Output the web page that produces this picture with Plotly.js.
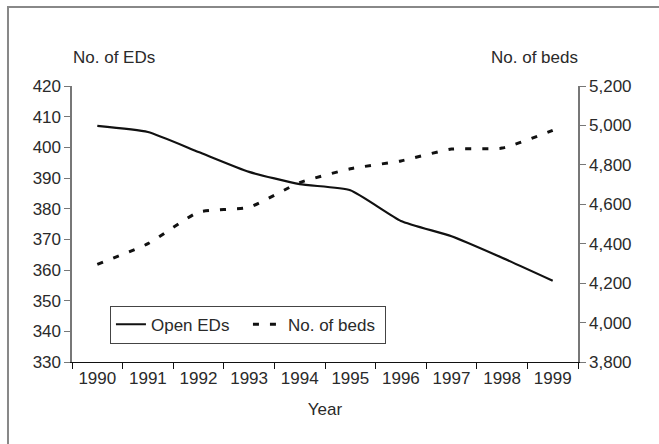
<!DOCTYPE html>
<html>
<head>
<meta charset="utf-8">
<script src="https://cdn.plot.ly/plotly-3.0.1.min.js"></script>
<style>html,body{margin:0;padding:0;background:#fff}#chart{width:659px;height:444px}</style>
</head>
<body>
<div id="chart"></div>
<script>
const years = ['1990','1991','1992','1993','1994','1995','1996','1997','1998','1999'];
const openEDs = [407, 405, 398.5, 392, 388, 386, 376, 371, 364, 356.5];
const beds = [4295, 4400, 4560, 4585, 4710, 4780, 4820, 4880, 4885, 4975];
const leftTicks = [330,340,350,360,370,380,390,400,410,420];
const rightTicks = [3800,4000,4200,4400,4600,4800,5000,5200];
const rightTickText = ['3,800','4,000','4,200','4,400','4,600','4,800','5,000','5,200'];

const FONT = 'Liberation Sans, Arial, sans-serif';
const FS = 17;
const TXT = '#2a2a2a';

const traces = [
  {x: years, y: openEDs, name: 'Open EDs', type: 'scatter', mode: 'lines',
   line: {color: '#111', width: 2.2, shape: 'spline', smoothing: 0.5}, yaxis: 'y'},
  {x: years, y: beds, name: 'No. of beds', type: 'scatter', mode: 'lines',
   line: {color: '#111', width: 3, dash: '6px,11px', shape: 'spline', smoothing: 0.5}, yaxis: 'y2'}
];

const layout = {
  width: 659, height: 444,
  margin: {l: 72, r: 81, t: 86, b: 82},
  paper_bgcolor: '#fff', plot_bgcolor: '#fff',
  font: {family: FONT, size: FS, color: TXT},
  showlegend: true,
  legend: {orientation: 'h', x: 0.075, y: 0.204, xanchor: 'left', yanchor: 'top',
    bordercolor: '#444', borderwidth: 1, bgcolor: '#fff', entrywidth: 92,
    font: {family: FONT, size: FS, color: TXT}, itemwidth: 30, tracegroupgap: 0},
  xaxis: {type: 'category', tickson: 'boundaries', ticks: 'outside', ticklen: 6, tickangle: 0,
    tickcolor: '#111', linecolor: '#111', linewidth: 1.3, showline: true, showgrid: false,
    zeroline: false, range: [-0.5, 9.5], tickfont: {family: FONT, size: FS, color: TXT},
    title: {text: 'Year', font: {family: FONT, size: FS, color: TXT}, standoff: 16}},
  yaxis: {range: [330, 420], tickvals: leftTicks, ticks: 'outside', ticklen: 6,
    tickcolor: '#777', linecolor: '#777', linewidth: 1.6, showline: true, showgrid: false,
    zeroline: false, tickfont: {family: FONT, size: FS, color: TXT}},
  yaxis2: {range: [3800, 5200], tickvals: rightTicks, ticktext: rightTickText, overlaying: 'y',
    side: 'right', ticks: 'outside', ticklen: 6, tickcolor: '#777', linecolor: '#777',
    linewidth: 1.6, showline: true, showgrid: false, zeroline: false,
    tickfont: {family: FONT, size: FS, color: TXT}},
  annotations: [
    {text: 'No. of EDs', xref: 'paper', yref: 'paper', x: -0.002, y: 1.105,
     xanchor: 'left', yanchor: 'middle', showarrow: false, font: {family: FONT, size: FS, color: TXT}},
    {text: 'No. of beds', xref: 'paper', yref: 'paper', x: 1.004, y: 1.105,
     xanchor: 'right', yanchor: 'middle', showarrow: false, font: {family: FONT, size: FS, color: TXT}}
  ],
  shapes: [
    {type: 'rect', xref: 'paper', yref: 'paper', x0: -0.1265, x1: 1.3, y0: -0.5, y1: 1.2862,
     line: {color: '#888', width: 2}, layer: 'below'}
  ]
};

Plotly.newPlot('chart', traces, layout, {displayModeBar: false, staticPlot: true});
</script>
</body>
</html>
